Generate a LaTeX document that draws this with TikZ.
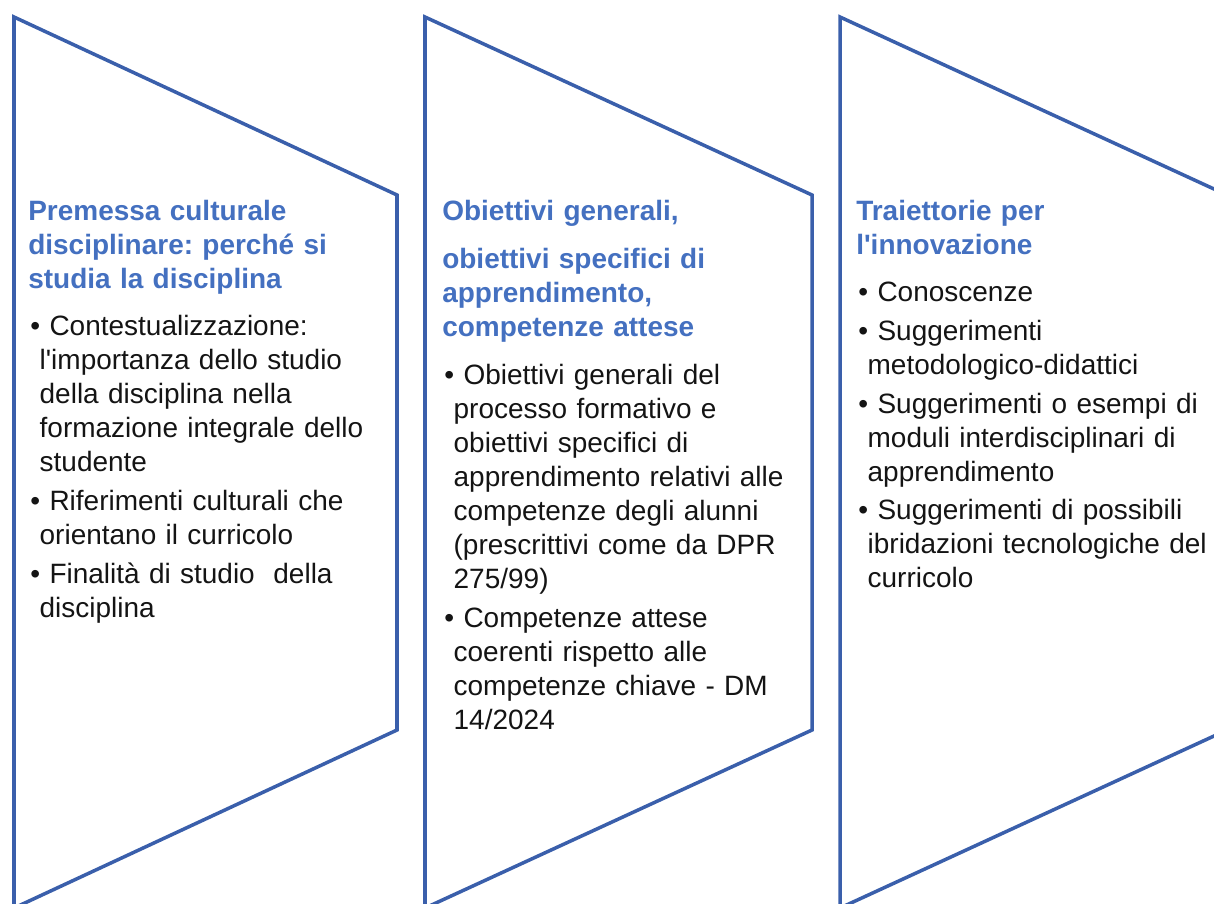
\documentclass[tikz,border=0pt]{standalone}
\usepackage{fontspec}
\setmainfont{Liberation Sans}
\usepackage{tikz}
\usetikzlibrary{positioning}
\definecolor{strokeChev}{HTML}{3A5FAB}
\definecolor{colTitle}{HTML}{4470C0}
\definecolor{colText}{HTML}{141414}
\newcommand{\apo}{\textquotesingle}
\frenchspacing

\begin{document}
\begin{tikzpicture}[
		x=0.025cm, y=-0.025cm,
		font=\fontsize{19.9pt}{24.2pt}\selectfont,
		% Shape & Text Styles
		chevron/.style={draw=strokeChev, line width=2.5pt, line join=miter},
		base/.style={inner sep=0pt, text width=260pt, align=left},
		title/.style={base, font=\fontsize{19.9pt}{24.2pt}\selectfont\bfseries, text=colTitle, execute at begin node=\strut, execute at end node=\strut},
		entry/.style={base, text=colText, execute at begin node={\hangindent=6.6pt\hangafter=1\strut\textbullet\ }, execute at end node=\strut}
		]
		
		\useasboundingbox (0,0) rectangle (1214,903);
		\clip (0,0) rectangle (1214,903);
		
		%% ================= CHEVRONS =================
		\draw[chevron] (14,17) -- (397,195) -- (397,730) -- (14,908) -- cycle;
		\draw[chevron] (425,17) -- (812,195) -- (812,730) -- (425,908) -- cycle;
		\draw[chevron] (840,17) -- (1227,195) -- (1227,730) -- (840,908) -- cycle;
		
		%% ================= COLUMN 1 =================
		\node[title, anchor=north west] (premessa) at (28,196) {Premessa culturale\newline disciplinare: perché si\newline studia la disciplina};
		\node[entry, below=9pt of premessa.south west, anchor=north west, xshift=1.5pt] (contesto) {Contestualizzazione:\newline l\apo importanza dello studio\newline della disciplina nella\newline formazione integrale dello\newline studente};
		\node[entry, below=3pt of contesto.south west, anchor=north west] (riferimenti) {Riferimenti culturali che\newline orientano il curricolo};
		\node[entry, below=3pt of riferimenti.south west, anchor=north west] (finalita) {Finalità di studio\ \ della\newline disciplina};
		
		%% ================= COLUMN 2 =================
		\node[title, anchor=north west] (obgen) at (442,196) {Obiettivi generali,};
		\node[title, below=10pt of obgen.south west, anchor=north west] (obspec) {obiettivi specifici di\newline apprendimento,\newline competenze attese};
		\node[entry, below=9pt of obspec.south west, anchor=north west, xshift=1.5pt] (processo) {Obiettivi generali del\newline processo formativo e\newline obiettivi specifici di\newline apprendimento relativi alle\newline competenze degli alunni\newline (prescrittivi come da DPR\newline 275/99)};
		\node[entry, below=3pt of processo.south west, anchor=north west] (chiave) {Competenze attese\newline coerenti rispetto alle\newline competenze chiave - DM\newline 14/2024};
		
		%% ================= COLUMN 3 =================
		\node[title, anchor=north west] (traiettorie) at (856,196) {Traiettorie per\newline l\apo innovazione};
		\node[entry, below=9pt of traiettorie.south west, anchor=north west, xshift=1.5pt] (conoscenze) {Conoscenze};
		\node[entry, below=3pt of conoscenze.south west, anchor=north west] (metodo) {Suggerimenti\newline metodologico-didattici};
		\node[entry, below=3pt of metodo.south west, anchor=north west] (moduli) {Suggerimenti o esempi di\newline moduli interdisciplinari di\newline apprendimento};
		\node[entry, below=3pt of moduli.south west, anchor=north west] (ibrid) {Suggerimenti di possibili\newline ibridazioni tecnologiche del\newline curricolo};
		
\end{tikzpicture}
\end{document}
